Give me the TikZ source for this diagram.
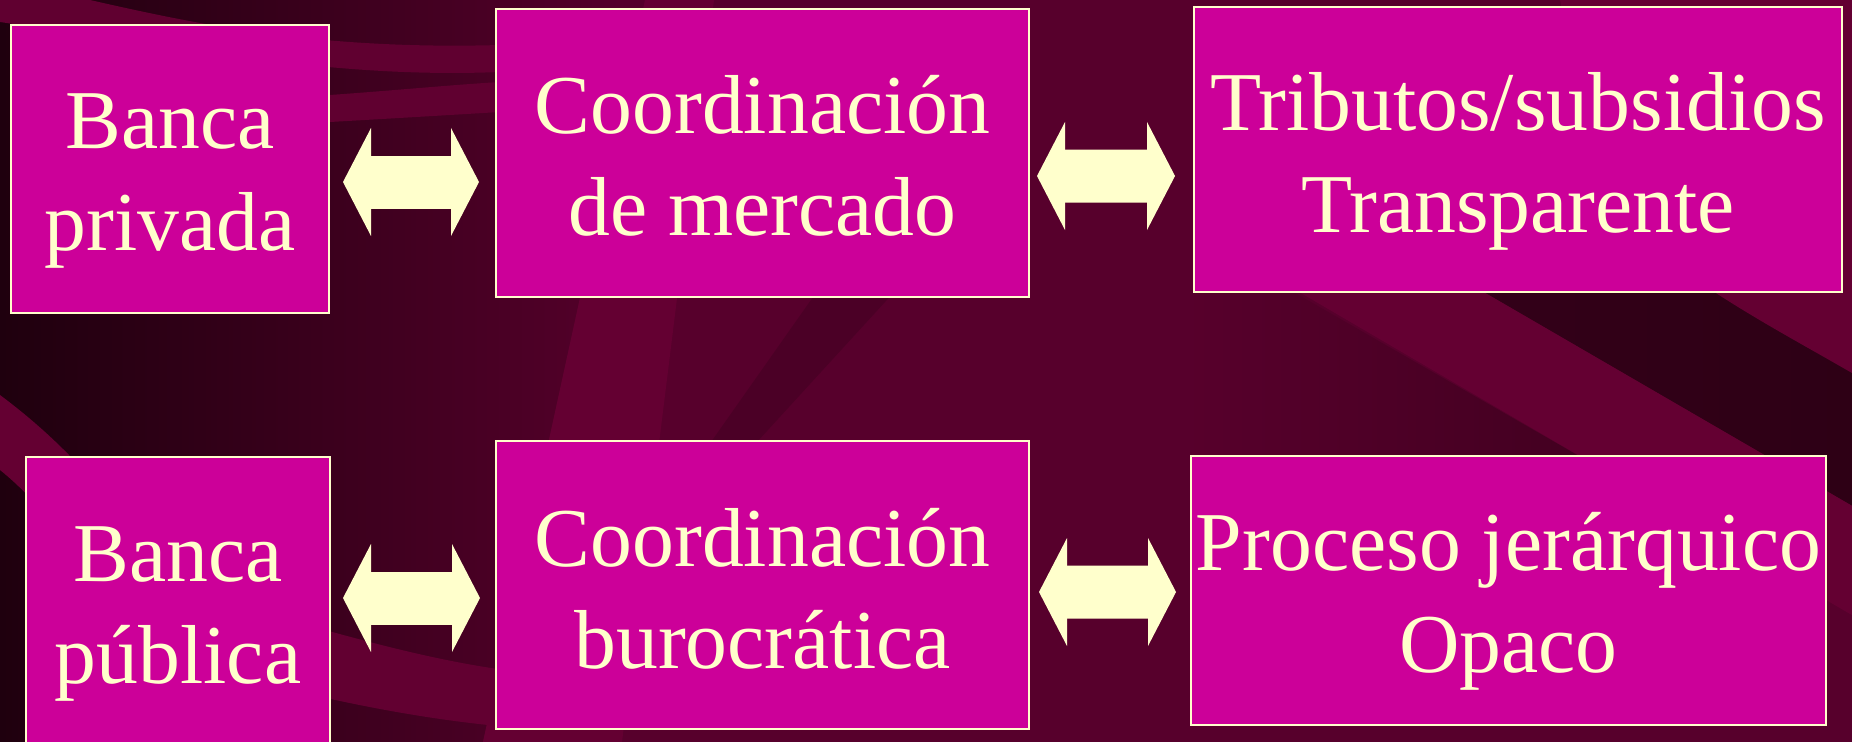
\documentclass[tikz,border=0pt]{standalone}
\usepackage{fontspec}
\setmainfont{Liberation Serif}
\usetikzlibrary{arrows.meta, calc}
\definecolor{boxpink}{RGB}{204,0,153}
\definecolor{cream}{RGB}{255,255,204}
\definecolor{bgdark}{RGB}{31,0,14}
\definecolor{bgmid}{RGB}{84,0,42}
\definecolor{bgdeep}{RGB}{52,0,25}
\definecolor{bglight}{RGB}{100,0,50}
\definecolor{bgshadow}{RGB}{40,0,18}
\tikzstyle{block} = [rectangle, draw=cream, line width=1.8bp, fill=boxpink, inner sep=0pt, outer sep=0pt]
\tikzstyle{caption} = [text=cream, align=center, anchor=base, inner sep=0pt, font=\fontsize{84}{101.5}\selectfont]
\tikzset{fat/.tip={Triangle[length=28bp, width=108bp, line width=0pt]}}
\tikzstyle{twoway} = [draw=cream, line width=53bp, fat-fat]

\begin{document}
\begin{tikzpicture}[x=1bp, y=-1bp]
  \useasboundingbox (0,0) rectangle (1852,742);
  % backdrop
  \begin{scope}
    \clip (0,0) rectangle (1852,742);
    \shade[left color=bgdark, right color=bgmid] (0,0) rectangle (621,742);
    \fill[bgmid] (620,0) rectangle (1852,742);
    \fill[bgmid!80!bglight] (645,0) -- (1200,0) -- (1210,240) -- (2069,742) -- (483,742) -- cycle;
    \fill[bglight] (645,0) -- (714,0) -- (622,742) -- (483,742) -- cycle;
    \fill[bgmid!90!black] (818,290) -- (896,290) -- (649,560) -- (628,560) -- cycle;
    \shade[left color=bgmid!80!bglight, right color=bgshadow!60!bgmid] (1190,290) -- (1290,290) -- (1760,560) -- (1190,560) -- cycle;
    \shade[left color=bgdeep, right color=bgshadow] (1394,240) -- (1852,240) -- (1852,742) -- (2259,742) -- cycle;
    \fill[bglight] (1210,240) -- (1394,240) -- (2259,742) -- (2069,742) -- cycle;
    \fill[bglight] (1560,0) -- (1852,0) -- (1852,373) .. controls (1760,320) and (1680,280) .. (1600,200) -- cycle;
    \fill[bglight!75!bgmid] (0,0) -- (90,0) .. controls (200,25) and (320,50) .. (500,45)
      -- (500,72) .. controls (350,78) and (220,55) .. (0,22) -- cycle;
    \fill[bglight!75!bgmid] (330,95) .. controls (400,90) and (450,85) .. (500,82)
      -- (500,112) .. controls (450,115) and (400,118) .. (330,122) -- cycle;
    \fill[bglight] (0,395) .. controls (60,440) and (150,520) .. (260,742)
      -- (180,742) .. controls (110,590) and (50,510) .. (0,470) -- cycle;
    \fill[bglight!85!bgmid] (250,610) .. controls (330,630) and (420,660) .. (520,672)
      -- (520,728) .. controls (420,720) and (330,700) .. (250,680) -- cycle;
  \end{scope}

  \node [block, minimum width=318bp, minimum height=288bp] (bpriv) at (170,169) {};
  \node [block, minimum width=533bp, minimum height=288bp] (cmerc) at (762.5,153) {};
  \node [block, minimum width=648bp, minimum height=285bp] (tribs) at (1518,149.5) {};
  \node [block, minimum width=304bp, minimum height=288bp] (bpub)  at (178,601) {};
  \node [block, minimum width=533bp, minimum height=288bp] (cburo) at (762.5,585) {};
  \node [block, minimum width=635bp, minimum height=269bp] (pjer)  at (1508.5,590.5) {};

  \node [caption] (bprivtxt) at (bpriv |- 0,250) {Banca\\privada};
  \node [caption] (cmerctxt) at (cmerc |- 0,235) {Coordinación\\de mercado};
  \node [caption] (tribstxt) at (tribs |- 0,232) {Tributos/subsidios\\Transparente};
  \node [caption] (bpubtxt)  at (bpub |- 0,683)  {Banca\\pública};
  \node [caption] (cburotxt) at (cburo |- 0,668) {Coordinación\\burocrática};
  \node [caption] (pjertxt)  at (pjer |- 0,672)  {Proceso jerárquico\\Opaco};

  \draw [twoway] ($(bpriv.east)+(14,13)$) -- ($(cmerc.west)+(-17,29)$);
  \draw [twoway] ($(cmerc.east)+(8,23)$)  -- ($(tribs.west)+(-19,26.5)$);
  \draw [twoway] ($(bpub.east)+(13,-3)$)  -- ($(cburo.west)+(-16,13)$);
  \draw [twoway] ($(cburo.east)+(10,7)$)  -- ($(pjer.west)+(-15,1.5)$);
\end{tikzpicture}
\end{document}
